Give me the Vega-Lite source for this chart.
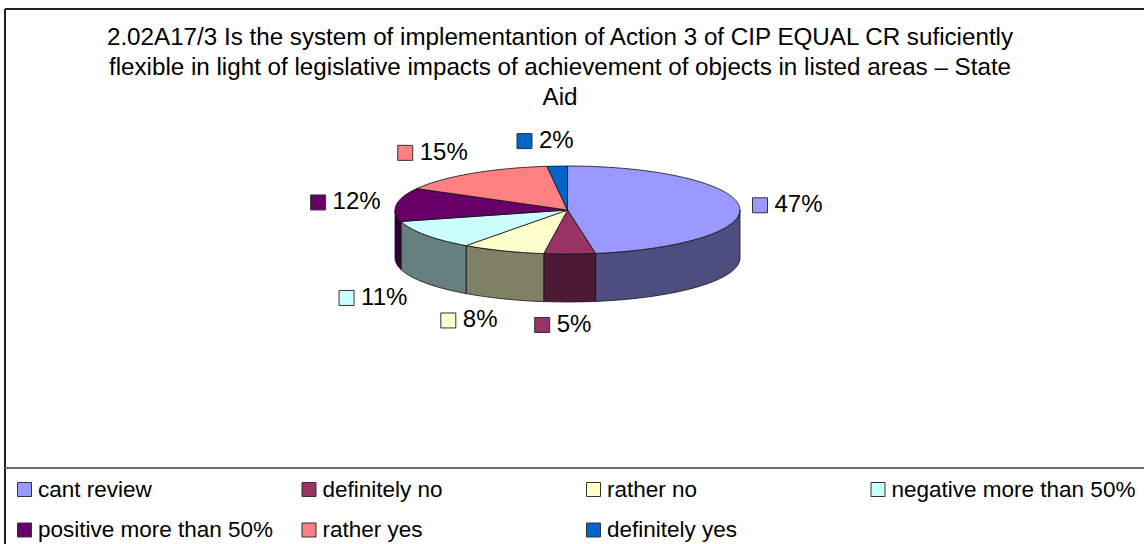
{
"$schema":"https://vega.github.io/schema/vega-lite/v6.json",
"width":1144,"height":544,"padding":0,"autosize":{"type":"none"},
"background":"white",
"view":{"stroke":null},
"config":{"font":"Liberation Sans"},
"title":{"text":["2.02A17/3 Is the system of implementantion of Action 3 of CIP EQUAL CR suficiently","flexible in light of legislative impacts of achievement of objects in listed areas – State","Aid"],
"orient":"top","anchor":"middle","frame":"group","font":"Liberation Sans","fontSize":24.2,"fontWeight":"normal","color":"#000000","lineHeight":30,"offset":-110,"dx":-12},
"data":{"values":[
{"category":" cant review","share":0.474},
{"category":"definitely no","share":0.048},
{"category":"rather no","share":0.078},
{"category":"negative more than 50%","share":0.108},
{"category":"positive more than 50%","share":0.123},
{"category":"rather yes","share":0.150},
{"category":"definitely yes","share":0.019}
]},
"transform":[
{"window":[{"op":"sum","field":"share","as":"end"},{"op":"row_number","as":"idx"}],"frame":[null,0]},
{"calculate":"(datum.end-datum.share)*2*PI","as":"t1"},
{"calculate":"datum.end*2*PI","as":"t2"},
{"calculate":"(datum.t1+datum.t2)/2","as":"tm"},
{"calculate":"567.5","as":"cx"},
{"calculate":"210","as":"cy"},
{"calculate":"round(17250*sin(datum.t1))/100","as":"x1"},
{"calculate":"round(-4400*cos(datum.t1))/100","as":"y1"},
{"calculate":"round(17250*sin(datum.t2))/100","as":"x2"},
{"calculate":"round(-4400*cos(datum.t2))/100","as":"y2"},
{"calculate":"'M0 0L'+datum.x1+' '+datum.y1+'A172.5 44 0 '+(datum.share>0.5?1:0)+' 1 '+datum.x2+' '+datum.y2+'Z'","as":"topPath"},
{"calculate":"max(datum.t1,PI/2)","as":"f1"},
{"calculate":"min(datum.t2,3*PI/2)","as":"f2"},
{"calculate":"round(17250*sin(datum.f1))/100","as":"sx1"},
{"calculate":"round(-4400*cos(datum.f1))/100","as":"sy1"},
{"calculate":"round(17250*sin(datum.f2))/100","as":"sx2"},
{"calculate":"round(-4400*cos(datum.f2))/100","as":"sy2"},
{"calculate":"'M'+datum.sx1+' '+datum.sy1+'A172.5 44 0 0 1 '+datum.sx2+' '+datum.sy2+'L'+datum.sx2+' '+(datum.sy2+48)+'A172.5 44 0 0 0 '+datum.sx1+' '+(datum.sy1+48)+'Z'","as":"sidePath"},
{"calculate":"datum.cx+219.6*sin(datum.tm)-28.4+25*sin(datum.tm)*abs(cos(datum.tm))","as":"keyX"},
{"calculate":"datum.cy+(cos(datum.tm)>=0?1-70*cos(datum.tm):52.5-62.5*cos(datum.tm))","as":"keyY"},
{"calculate":"24.5+284.5*((datum.idx-1)%4)","as":"legX"},
{"calculate":"489.5+40.5*floor((datum.idx-1)/4)","as":"legY"}
],
"layer":[
{"transform":[{"filter":"datum.f1<datum.f2"}],
"mark":{"type":"point","filled":true,"size":4,"opacity":1,"stroke":"#111111","strokeWidth":0.8},
"encoding":{
"x":{"field":"cx","type":"quantitative","scale":{"domain":[0,1144],"range":[0,1144],"nice":false,"zero":false},"axis":null},
"y":{"field":"cy","type":"quantitative","scale":{"domain":[0,544],"range":[0,544],"nice":false,"zero":false},"axis":null},
"shape":{"field":"sidePath","type":"nominal","scale":null,"legend":null},
"fill":{"field":"category","type":"nominal","sort":null,"legend":null,"scale":{"domain":[" cant review","definitely no","rather no","negative more than 50%","positive more than 50%","rather yes","definitely yes"],"range":["#4D4D80","#4D1A33","#808066","#668080","#330033","#804040","#003366"]}}
}},
{"mark":{"type":"point","filled":true,"size":4,"opacity":1,"stroke":"#111111","strokeWidth":0.8},
"encoding":{
"x":{"field":"cx","type":"quantitative","axis":null},
"y":{"field":"cy","type":"quantitative","axis":null},
"shape":{"field":"topPath","type":"nominal","scale":null,"legend":null},
"color":{"field":"category","type":"nominal","sort":null,"legend":null,
"scale":{"domain":[" cant review","definitely no","rather no","negative more than 50%","positive more than 50%","rather yes","definitely yes"],"range":["#9999FF","#993366","#FFFFCC","#CCFFFF","#660066","#FF8080","#0066CC"]}}
}},
{"mark":{"type":"point","filled":true,"shape":"square","size":225,"opacity":1,"stroke":"#333333","strokeWidth":1},
"encoding":{
"x":{"field":"keyX","type":"quantitative","axis":null},
"y":{"field":"keyY","type":"quantitative","axis":null},
"color":{"field":"category","type":"nominal","sort":null,"legend":null}
}},
{"mark":{"type":"text","align":"left","baseline":"middle","dx":14.5,"font":"Liberation Sans","fontSize":24,"color":"#000000"},
"encoding":{
"x":{"field":"keyX","type":"quantitative","axis":null},
"y":{"field":"keyY","type":"quantitative","axis":null},
"text":{"field":"share","type":"quantitative","format":".0%"}
}},
{"mark":{"type":"point","filled":true,"shape":"square","size":196,"opacity":1,"stroke":"#333333","strokeWidth":1},
"encoding":{
"x":{"field":"legX","type":"quantitative","axis":null},
"y":{"field":"legY","type":"quantitative","axis":null},
"color":{"field":"category","type":"nominal","sort":null,"legend":null}
}},
{"mark":{"type":"text","align":"left","baseline":"middle","dx":13.5,"font":"Liberation Sans","fontSize":22.5,"color":"#000000"},
"encoding":{
"x":{"field":"legX","type":"quantitative","axis":null},
"y":{"field":"legY","type":"quantitative","axis":null},
"text":{"field":"category","type":"nominal"}
}},
{"mark":{"type":"rule","color":"#222222","strokeWidth":1.2},
"encoding":{"x":{"datum":5},"y":{"datum":9},"y2":{"datum":544}}},
{"mark":{"type":"rule","color":"#222222","strokeWidth":1.2},
"encoding":{"y":{"datum":9},"x":{"datum":5},"x2":{"datum":1144}}},
{"mark":{"type":"rule","color":"#707070","strokeWidth":1.5},
"encoding":{"y":{"datum":468},"x":{"datum":5},"x2":{"datum":1144}}}
]
}
